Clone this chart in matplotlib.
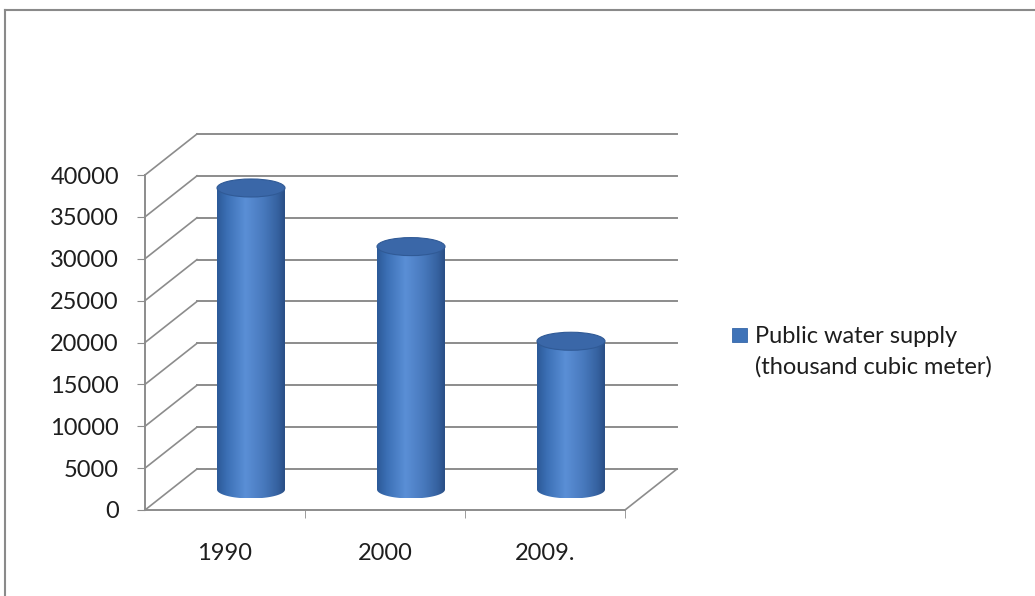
import numpy as np
import matplotlib.pyplot as plt
from matplotlib.patches import Polygon, Ellipse, Rectangle
from matplotlib.colors import LinearSegmentedColormap
from matplotlib.lines import Line2D

plt.rcParams['font.family'] = ['Lato', 'DejaVu Sans']

years = ['1990', '2000', '2009.']
supply = [36000, 29000, 17700]
yticks = list(range(0, 40001, 5000))
series_name = 'Public water supply\n(thousand cubic meter)'

W, H = 1035, 596
fig = plt.figure(figsize=(W / 100, H / 100), dpi=100)
ax = fig.add_axes([145 / W, 1 - 510 / H, 480 / W, 335 / H])
ax.set_xlim(-0.5, 2.5)
ax.set_ylim(0, 40000)

# depth of the fake 3d box, in data units
dx, dy = 0.325, 4900
grid_c = '#8c8c8c'
txt_c = '#1e1e1e'
fs = 17

for v in yticks:
    # back wall lines and left side wall diagonals
    ax.plot([-0.5 + dx, 2.5 + dx], [v + dy, v + dy], color=grid_c, lw=1.4,
            clip_on=False, zorder=1)
    ax.plot([-0.5, -0.5 + dx], [v, v + dy], color=grid_c, lw=1.2,
            clip_on=False, zorder=1)
# right edge of the floor
ax.plot([2.5, 2.5 + dx], [0, dy], color=grid_c, lw=1.2, clip_on=False, zorder=1)

for s in ['top', 'right']:
    ax.spines[s].set_visible(False)
for s in ['left', 'bottom']:
    ax.spines[s].set_color(grid_c)
    ax.spines[s].set_linewidth(1.4)

ax.set_yticks(yticks)
ax.set_yticklabels([str(v) for v in yticks])
ax.tick_params(axis='y', length=5.8, color=grid_c, pad=13, labelsize=fs,
               labelcolor=txt_c)
ax.set_xticks(range(len(years)))
ax.set_xticklabels(years)
ax.set_xticks([0.5, 1.5, 2.5], minor=True)
ax.tick_params(axis='x', which='major', length=0, pad=24, labelsize=fs,
               labelcolor=txt_c)
ax.tick_params(axis='x', which='minor', length=5.8, color=grid_c)
ax.patch.set_visible(False)

body_cmap = LinearSegmentedColormap.from_list('cyl', [
    (0.0, '#2c5a98'), (0.15, '#3c70b6'), (0.42, '#5a8fd6'),
    (0.7, '#4778bc'), (0.9, '#35619f'), (1.0, '#2a4e85')])
grad = body_cmap(np.linspace(0, 1, 200))[None, :, :]

r, ry = 0.2125, 1075
base = dy / 2
t = np.linspace(np.pi, 2 * np.pi, 60)
for i, val in enumerate(supply):
    cx = i + dx / 2
    top = base + val
    xs = np.concatenate([[cx - r], cx + r * np.cos(t), [cx + r]])
    ys = np.concatenate([[top], base + ry * np.sin(t), [top]])
    body = Polygon(np.column_stack([xs, ys]), closed=True, facecolor='none',
                   edgecolor='none', zorder=3)
    ax.add_patch(body)
    img = ax.imshow(grad, extent=[cx - r, cx + r, base - ry, top],
                    aspect='auto', zorder=3, interpolation='bicubic')
    img.set_clip_path(body)
    ax.add_patch(Ellipse((cx, top), 2 * r, 2 * ry, facecolor='#3a67a8',
                         edgecolor='#305a96', lw=0.8, zorder=4))

ax.set_xlim(-0.5, 2.5)
ax.set_ylim(0, 40000)

# legend
fig.patches.append(Rectangle((732 / W, 1 - 342 / H), 15 / W, 14 / H,
                             transform=fig.transFigure, facecolor='#3f73b8',
                             edgecolor='#3566a8', lw=0.6))
fig.text(755 / W, 1 - 352 / H, series_name, fontsize=fs, color=txt_c,
         va='center', ha='left', linespacing=1.5,
         transform=fig.transFigure)

# chart area border
fig.add_artist(Line2D([5 / W, 5 / W], [0, 1 - 10 / H], color='#8a8a8a', lw=1.5,
                      transform=fig.transFigure))
fig.add_artist(Line2D([5 / W, 1], [1 - 10 / H, 1 - 10 / H], color='#8a8a8a',
                      lw=1.5, transform=fig.transFigure))

fig.savefig('out.png', dpi=100)
